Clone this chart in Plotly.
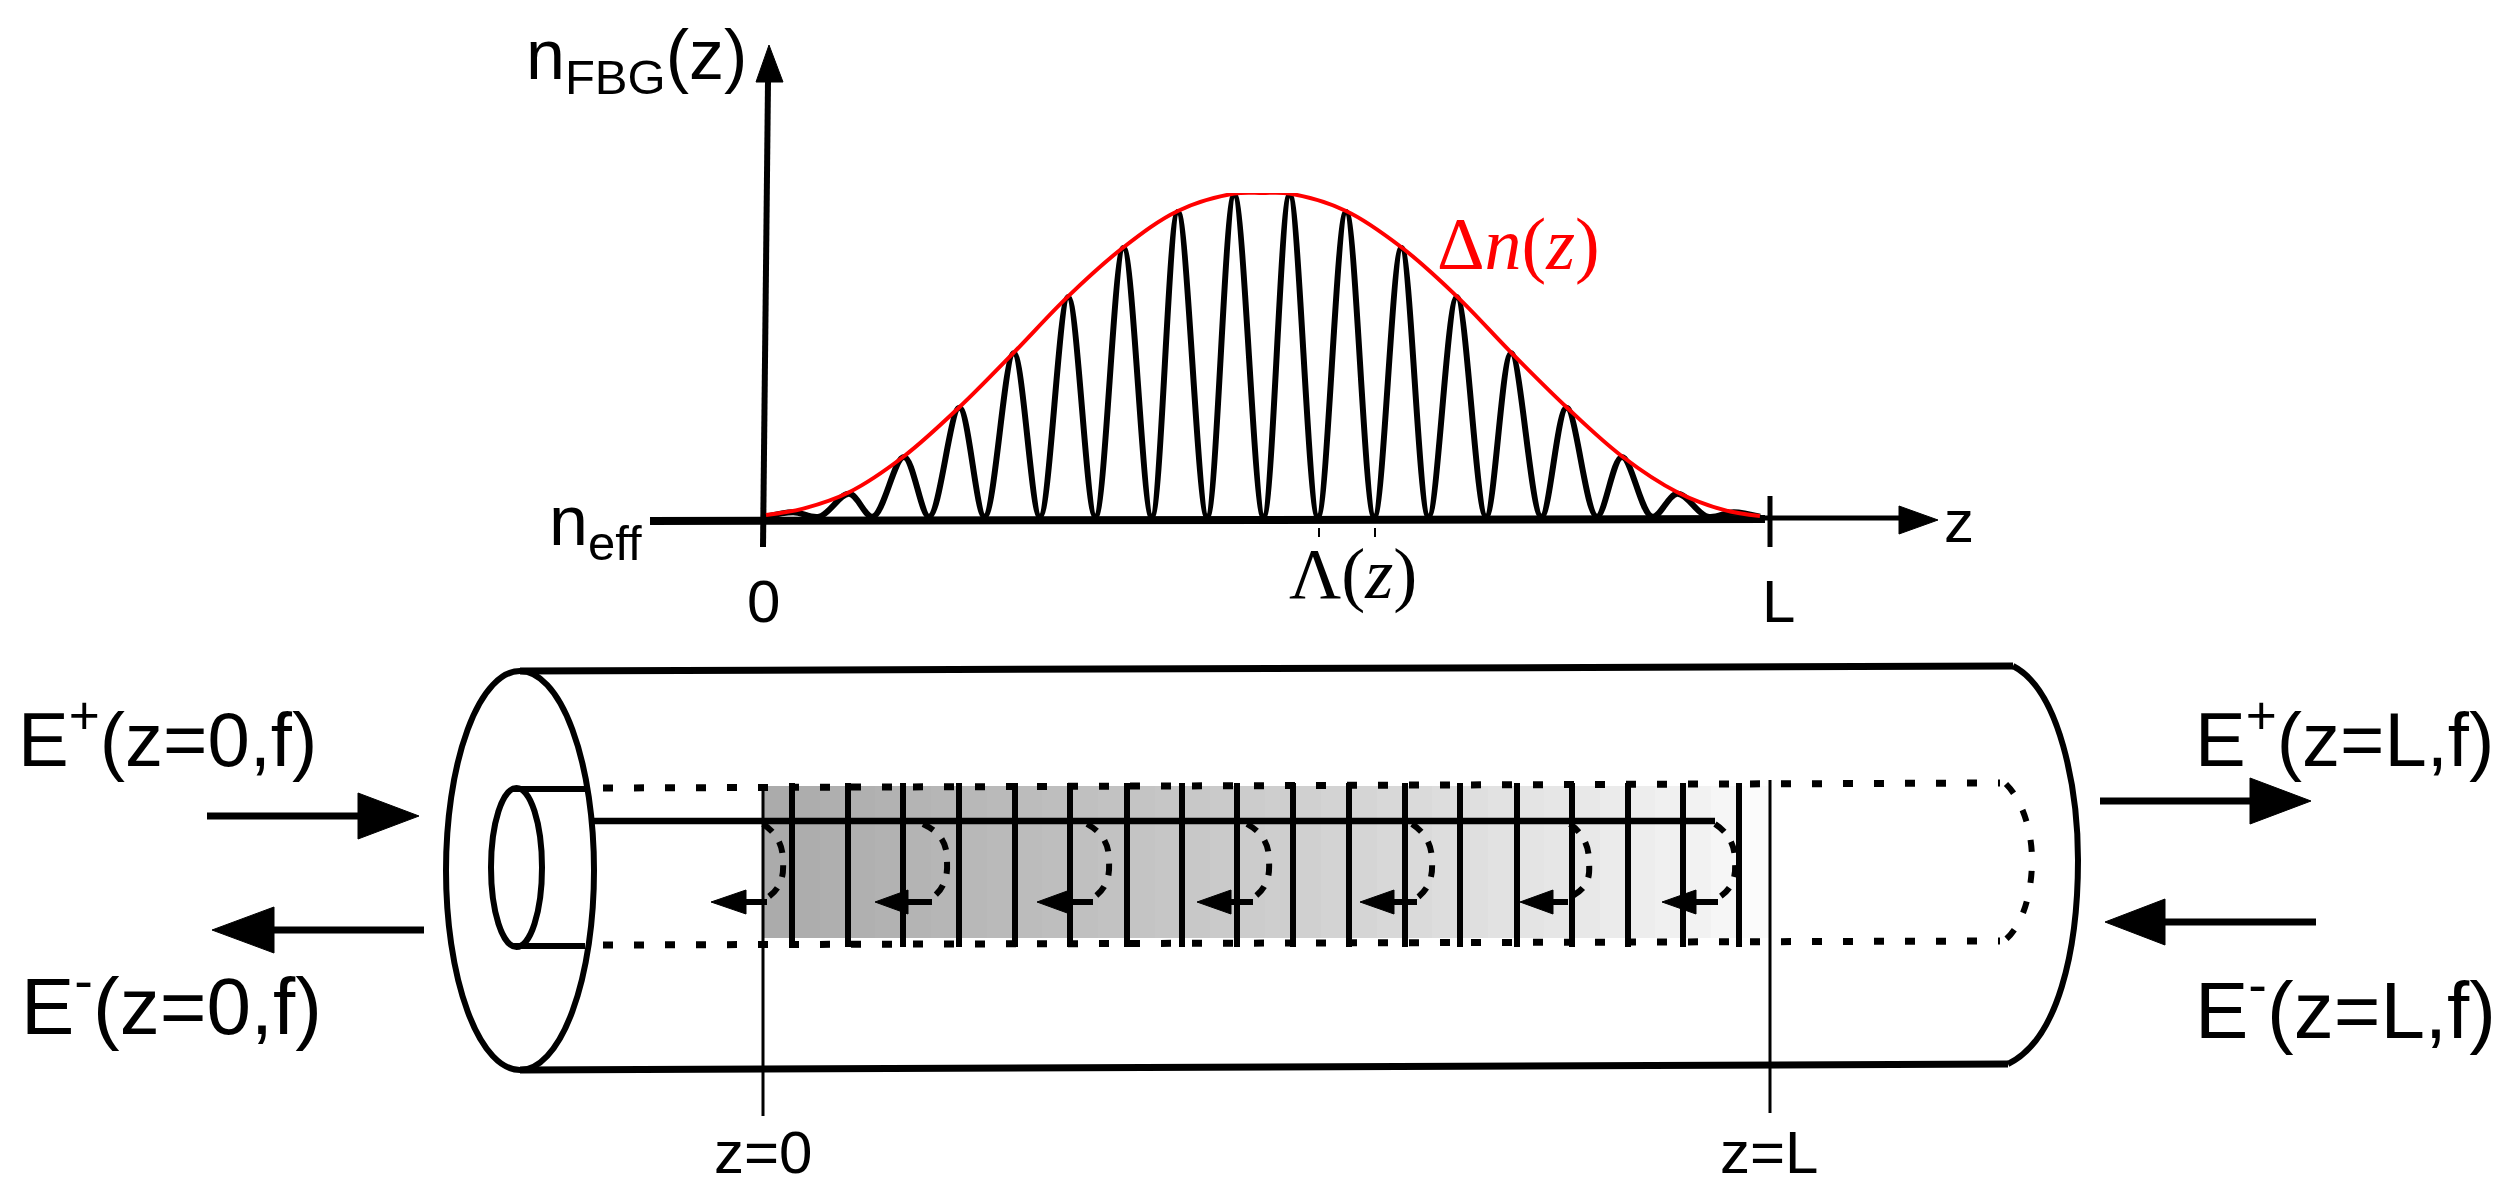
"""FBG index profile on top, fibre sketch with the grating below."""

import numpy as np
import plotly.graph_objects as go

W, H = 2506, 1196

# grating profile, z as a fraction of L, n as a fraction of the peak
fringe_z = [0.003, 0.030, 0.056, 0.0855, 0.109, 0.140, 0.165, 0.195, 0.220, 0.249, 0.275, 0.303,
            0.330, 0.358, 0.386, 0.412, 0.441, 0.468, 0.497, 0.523, 0.551, 0.579, 0.607, 0.634,
            0.661, 0.689, 0.718, 0.743, 0.773, 0.798, 0.828, 0.853, 0.883, 0.908, 0.938, 0.964, 0.990]
fringe_n = [0.01, 0.024, 0.01, 0.08, 0.01, 0.193, 0.01, 0.343, 0.01, 0.51, 0.01, 0.682,
            0.01, 0.832, 0.01, 0.942, 0.01, 0.994, 0.01, 0.994, 0.01, 0.942, 0.01, 0.832,
            0.01, 0.682, 0.01, 0.51, 0.01, 0.343, 0.01, 0.193, 0.01, 0.08, 0.01, 0.024, 0.01]
envelope_z = [0.003, 0.040, 0.0855, 0.140, 0.195, 0.249, 0.303, 0.358, 0.412, 0.468, 0.496, 0.523,
              0.579, 0.634, 0.689, 0.743, 0.798, 0.853, 0.908, 0.955, 0.990]
envelope_n = [0.015, 0.035, 0.085, 0.195, 0.345, 0.512, 0.684, 0.834, 0.945, 0.998, 1.0, 0.998,
              0.945, 0.834, 0.684, 0.512, 0.345, 0.195, 0.085, 0.03, 0.012]

# fibre sketch, canvas pixels
grating_x = [792, 848, 903, 959, 1015, 1070, 1127, 1182, 1237, 1293, 1349, 1405, 1460, 1517, 1572, 1628, 1683, 1739]
shade_edges = [763, 792, 820, 848, 875, 903, 931, 959, 987, 1015, 1042, 1070, 1098, 1127, 1155, 1182, 1210, 1237,
               1265, 1293, 1321, 1349, 1377, 1405, 1432, 1460, 1488, 1517, 1544, 1572, 1600, 1628, 1655, 1683,
               1711, 1739, 1770]
shade_gray = [171, 173, 175, 176, 178, 180, 182, 184, 186, 188, 190, 192, 194, 196, 198, 200, 202, 204,
              206, 208, 211, 213, 216, 218, 221, 223, 226, 228, 230, 232, 235, 237, 240, 242, 246, 251]

# reflected waves: arc start x, arc bulge x, shaft tail x, head base x, tip x
refl_start = [763, 923, 1087, 1247, 1412, 1570, 1715]
refl_bulge = [783, 947, 1109, 1269, 1432, 1589, 1735]
refl_tail = [767, 932, 1093, 1253, 1417, 1568, 1718]
refl_base = [746, 908, 1070, 1231, 1394, 1553, 1696]
refl_tip = [711, 875, 1037, 1197, 1360, 1520, 1662]

BLACK = "#000000"
RED = "#ff0000"
SANS = "Liberation Sans"
SERIF = "Liberation Serif"

fig = go.Figure()


def line(xs, ys, width=6, dash="solid", shape="linear", color=BLACK):
    fig.add_trace(go.Scatter(x=xs, y=ys, mode="lines", hoverinfo="skip", cliponaxis=False,
                             line=dict(color=color, width=width, dash=dash, shape=shape, smoothing=1.3)))


def head(xs, ys):
    fig.add_trace(go.Scatter(x=xs, y=ys, mode="lines", fill="toself", fillcolor=BLACK, hoverinfo="skip",
                             cliponaxis=False, line=dict(color=BLACK, width=1)))


def arrow(tail, base, tip, y, half, width=7):
    line([tail, base], [y, y], width=width)
    head([base, tip, base, base], [y - half, y, y + half, y - half])


def label(text, x, y, size=60, xanchor="left", yanchor="bottom", family=SANS, color=BLACK):
    fig.add_annotation(text=text, x=x, y=y, xref="x", yref="y", showarrow=False, xanchor=xanchor,
                       yanchor=yanchor, borderpad=0, font=dict(family=family, size=size, color=color))


# shaded grating region
shade_left = np.array(shade_edges[:-1])
shade_right = np.array(shade_edges[1:])
fig.add_trace(go.Bar(x=(shade_left + shade_right) / 2, width=shade_right - shade_left,
                     y=[152] * len(shade_gray), base=[786] * len(shade_gray),
                     marker=dict(color=[f"rgb({g},{g},{g})" for g in shade_gray], line=dict(width=0)),
                     hoverinfo="skip"))

# fibre outline
line([520, 2013], [671, 666], width=7)
line([520, 2008], [1070, 1064], width=7)
line([513, 585], [789, 789])
line([513, 585], [946, 946])
line([593, 1715], [821, 821], width=6.5)

# grating lines and the two z markers
for gx in grating_x:
    line([gx, gx], [783, 947])
line([763, 763], [788, 1116], width=3)
line([1770, 1770], [780, 1113], width=3)

# dotted cladding boundary
line([603, 2000], [788, 783], width=7, dash="10px,21px")
line([603, 2000], [945, 941], width=7, dash="10px,21px")

# reflected waves
for start, bulge, tail, base, tip in zip(refl_start, refl_bulge, refl_tail, refl_base, refl_tip):
    line([start, bulge - 6, bulge, bulge - 4, tail], [824, 838, 861, 885, 898], width=6, dash="12px,12px", shape="spline")
    arrow(tail, base, tip, 902, 12, width=6)

# input and output arrows
arrow(207, 358, 419, 816, 23)
arrow(424, 274, 212, 930, 23)
arrow(2100, 2250, 2311, 801, 23)
arrow(2316, 2165, 2105, 922, 23)

# axes of the profile plot
line([650, 1765], [521, 519], width=8)
line([1765, 1900], [518, 518], width=5)
head([1899, 1938, 1899, 1899], [506, 520, 534, 506])
line([763, 768], [547, 82], width=6)
head([756, 769, 783, 756], [82, 45, 82, 82])
line([1770, 1770], [496, 547], width=5)
line([1319, 1319], [528, 537], width=2)
line([1375, 1375], [528, 537], width=2)

# profile curves
for tr in [go.Scatter(x=fringe_z, y=fringe_n, line=dict(color=BLACK, width=6, shape="spline", smoothing=1.0)),
           go.Scatter(x=envelope_z, y=envelope_n, line=dict(color=RED, width=4, shape="spline", smoothing=1.0))]:
    tr.update(mode="lines", xaxis="x2", yaxis="y2", hoverinfo="skip", cliponaxis=False)
    fig.add_trace(tr)

# text
label("n<sub>FBG</sub>(z)", 525, 105, size=70)
label("n<sub>eff</sub>", 548, 571, size=70)
label("0", 763, 636, xanchor="center")
label("L", 1778, 636, xanchor="center")
label("z", 1943, 556)
label("Δ<i>n</i>(<i>z</i>)", 1436, 286, size=74, family=SERIF, color=RED)
label("Λ(<i>z</i>)", 1353, 615, size=72, xanchor="center", family=SERIF)
label("E<sup>+</sup>(z=0,f)", 17, 783, size=76)
label("E<sup>-</sup>(z=0,f)", 20, 1052, size=80)
label("E<sup>+</sup>(z=L,f)", 2194, 783, size=76)
label("E<sup>-</sup>(z=L,f)", 2194, 1056, size=80)
label("z=0", 763, 1187, xanchor="center")
label("z=L", 1769, 1187, xanchor="center")

fig.update_layout(
    width=W, height=H,
    margin=dict(l=0, r=0, t=0, b=0),
    paper_bgcolor="white", plot_bgcolor="rgba(0,0,0,0)",
    showlegend=False, barmode="overlay",
    xaxis=dict(range=[0, W], visible=False, domain=[0, 1]),
    yaxis=dict(range=[H, 0], visible=False, domain=[0, 1]),
    xaxis2=dict(range=[0, 1], visible=False, domain=[763 / W, 1770 / W], anchor="y2"),
    yaxis2=dict(range=[0, 1], visible=False, domain=[1 - 520 / H, 1 - 193 / H], anchor="x2"),
    shapes=[
        dict(type="circle", xref="x", yref="y", x0=446, x1=594, y0=671, y1=1070, line=dict(color=BLACK, width=6)),
        dict(type="circle", xref="x", yref="y", x0=491, x1=542, y0=788, y1=947, line=dict(color=BLACK, width=6)),
        dict(type="path", xref="x", yref="y", path="M 2013,666 C 2060,690 2078,790 2078,860 C 2078,950 2058,1040 2008,1064",
             line=dict(color=BLACK, width=6)),
        dict(type="path", xref="x", yref="y", path="M 2006,784 C 2022,800 2032,830 2032,860 C 2032,890 2024,925 2004,941",
             line=dict(color=BLACK, width=6, dash="12px,19px")),
    ],
)

# the page body has a default margin that would shift the whole drawing
fig.write_html("out.html", config=dict(displayModeBar=False), post_script="document.body.style.margin = '0';")
